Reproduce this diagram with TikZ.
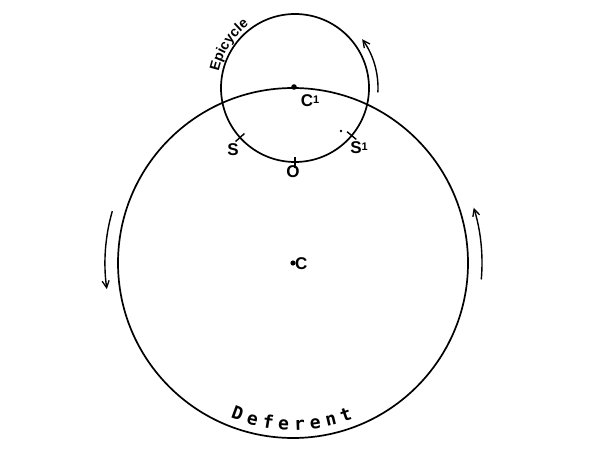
\documentclass[tikz,border=0pt]{standalone}
\usepackage{fontspec}
\setmainfont{Liberation Sans}
\newfontfamily\lblfont{Liberation Sans}
\newfontfamily\deffont{DejaVu Sans Mono}
\usetikzlibrary{arrows.meta,decorations.text,calc}
\begin{document}
\begin{tikzpicture}[x=1pt,y=1pt,
  orbit/.style={line width=1.7pt},
  motion/.style={line width=1.4pt,-{Straight Barb[length=7pt,width=7pt,line width=1.3pt]}},
  tickmark/.style={line width=1.4pt},
  lbl/.style={font=\lblfont\bfseries\fontsize{17}{17}\selectfont, inner sep=0pt}]
\useasboundingbox (0,0) rectangle (600,459);
\coordinate (C) at (293,196);
\coordinate (E) at (295,371);
% circles
\draw[orbit] (C) circle[radius=175];
\draw[orbit] (E) circle[radius=74];
% centre dots
\fill (C) circle[radius=2.6];
\node[lbl, anchor=west] (Clbl) at (295,195) {C};
\fill (294,372) circle[radius=2.8];
\node[lbl, anchor=center] (C1lbl) at (310,358) {C\raisebox{0.35ex}{\fontsize{11}{11}\selectfont 1}};
% ticks on epicycle
\draw[tickmark] ($(E)+(222:68)$) -- ($(E)+(222:80)$);
\draw[tickmark] ($(E)+(320:68)$) -- ($(E)+(320:80)$);
\draw[tickmark] ($(E)+(270:69)$) -- ($(E)+(270:80)$);
\fill (341,328) circle[radius=1.4];
\node[lbl] (S) at (233,309) {S};
\node[lbl] (S1) at (359,311) {S\raisebox{0.35ex}{\fontsize{11}{11}\selectfont 1}};
\node[lbl] (O) at (293,287) {O};
% motion arrows
\draw[motion] ($(E)+(-3:83)$) arc[start angle=-3, end angle=36, radius=83];
\draw[motion] ($(C)+(164:188)$) arc[start angle=164, end angle=188, radius=188];
\draw[motion] ($(C)+(-5:189)$) arc[start angle=-5, end angle=17, radius=189];
% curved labels
\path[decorate, decoration={text along path, text align=center,
  text={|\lblfont\bfseries\fontsize{14}{14}\selectfont|Epicycle}}]
  ($(E)+(176:78)$) arc[start angle=176, end angle=118, radius=78];
\path[decorate, decoration={text along path, text align=fit to path,
  text={|\deffont\bfseries\fontsize{18}{18}\selectfont|Deferent}}]
  ($(C)+(248:167)$) arc[start angle=248, end angle=291, radius=167];
\end{tikzpicture}
\end{document}
